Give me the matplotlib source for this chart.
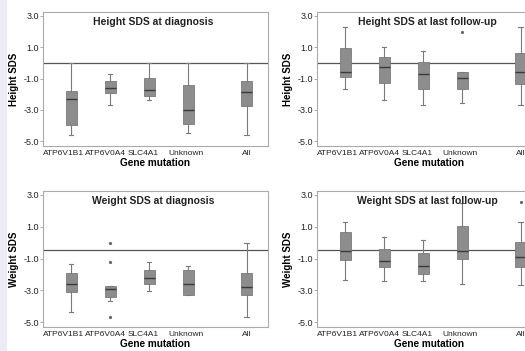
import matplotlib
matplotlib.use("Agg")
import matplotlib.pyplot as plt
from matplotlib.patches import Rectangle

plt.rcParams['font.family'] = ['Liberation Sans', 'DejaVu Sans']

groups = ['ATP6V1B1', 'ATP6V0A4', 'SLC4A1', 'Unknown', 'All']
positions = [1, 2, 3, 4, 5.5]
label_pos = [0.8, 1.88, 2.86, 3.95, 5.5]

# each panel: whisker low, q1, median, q3, whisker high, outliers per group
height_dx_lo = [-4.57, -2.68, -2.38, -4.44, -4.61]
height_dx_q1 = [-3.97, -1.90, -2.10, -3.92, -2.72]
height_dx_med = [-2.27, -1.62, -1.75, -3.00, -1.84]
height_dx_q3 = [-1.80, -1.13, -0.96, -1.41, -1.17]
height_dx_hi = [0.0, -0.70, 0.0, 0.0, 0.0]
height_dx_out = [[], [], [], [], []]

height_fu_lo = [-1.67, -2.35, -2.66, -2.57, -2.66]
height_fu_q1 = [-0.89, -1.28, -1.67, -1.67, -1.32]
height_fu_med = [-0.57, -0.25, -0.68, -0.98, -0.61]
height_fu_q3 = [0.98, 0.40, 0.03, -0.57, 0.63]
height_fu_hi = [2.29, 1.00, 0.78, -0.57, 2.29]
height_fu_out = [[], [], [], [1.97], []]

weight_dx_lo = [-4.33, -3.69, -3.06, -3.30, -4.68]
weight_dx_q1 = [-3.08, -3.41, -2.62, -3.30, -3.30]
weight_dx_med = [-2.60, -2.89, -2.19, -2.60, -2.80]
weight_dx_q3 = [-1.93, -2.71, -1.71, -1.69, -1.93]
weight_dx_hi = [-1.36, -2.71, -1.20, -1.45, -0.03]
weight_dx_out = [[], [-0.03, -1.20, -4.70], [], [], []]

weight_fu_lo = [-2.35, -2.42, -2.42, -2.59, -2.64]
weight_fu_q1 = [-1.09, -1.55, -1.94, -1.00, -1.50]
weight_fu_med = [-0.50, -1.13, -1.44, -0.54, -0.91]
weight_fu_q3 = [0.68, -0.41, -0.65, 1.07, 0.05]
weight_fu_hi = [1.31, 0.38, 0.16, 2.49, 1.31]
weight_fu_out = [[], [], [], [], [2.56]]

height_ref = 0.0
weight_ref = -0.43

panels = [
    ('Height SDS at diagnosis', 'Height SDS', height_ref,
     height_dx_lo, height_dx_q1, height_dx_med, height_dx_q3, height_dx_hi, height_dx_out),
    ('Height SDS at last follow-up', 'Height SDS', height_ref,
     height_fu_lo, height_fu_q1, height_fu_med, height_fu_q3, height_fu_hi, height_fu_out),
    ('Weight SDS at diagnosis', 'Weight SDS', weight_ref,
     weight_dx_lo, weight_dx_q1, weight_dx_med, weight_dx_q3, weight_dx_hi, weight_dx_out),
    ('Weight SDS at last follow-up', 'Weight SDS', weight_ref,
     weight_fu_lo, weight_fu_q1, weight_fu_med, weight_fu_q3, weight_fu_hi, weight_fu_out),
]

W, H = 525, 351
# axes boxes in pixels: left, top, right, bottom
boxes_px = [(43, 12, 268, 146), (317, 12, 542, 146),
            (43, 191, 268, 327), (317, 191, 542, 327)]

fig = plt.figure(figsize=(W / 100, H / 100), dpi=100)
fig.add_artist(Rectangle((0, 0), 6 / W, 1, transform=fig.transFigure,
                         color='#eceaf6', zorder=0))

for (title, ylab, ref, lo, q1, med, q3, hi, out), (l, t, r, b) in zip(panels, boxes_px):
    ax = fig.add_axes([l / W, (H - b) / H, (r - l) / W, (b - t) / H])
    stats = []
    for i in range(len(groups)):
        stats.append({'whislo': lo[i], 'q1': q1[i], 'med': med[i], 'q3': q3[i],
                      'whishi': hi[i], 'fliers': out[i], 'label': groups[i]})
    ax.axhline(ref, color='#555555', lw=0.9, zorder=1)
    ax.bxp(stats, positions=positions, widths=0.28, capwidths=0.12,
           patch_artist=True, showfliers=True,
           boxprops=dict(facecolor='#8d8d8d', edgecolor='#7a7a7a', lw=0.6),
           medianprops=dict(color='#3a3a3a', lw=1.0),
           whiskerprops=dict(color='#7a7a7a', lw=0.8),
           capprops=dict(color='#7a7a7a', lw=0.8),
           flierprops=dict(marker='o', markersize=1.3, markerfacecolor='#666666',
                           markeredgecolor='#666666'))
    ax.set_xticks(label_pos)
    ax.set_xticklabels(groups)
    ax.set_xlim(0.28, 6.05)
    ax.set_ylim(-5.3, 3.25)
    ax.set_yticks([3, 1, -1, -3, -5])
    ax.set_yticklabels(['3.0', '1.0', '-1.0', '-3.0', '-5.0'])
    ax.tick_params(axis='y', labelsize=6.5, length=2, width=0.5, color='#888888',
                   pad=1, labelcolor='#222222')
    ax.tick_params(axis='x', labelsize=6, length=0, pad=3, labelcolor='#222222')
    for s in ax.spines.values():
        s.set_color('#aaaaaa')
        s.set_linewidth(0.8)
    ax.set_ylabel(ylab, fontsize=7, fontweight='bold', labelpad=3)
    ax.set_xlabel('Gene mutation', fontsize=7.2, fontweight='bold', labelpad=0.5)
    ax.text(0.49, 0.965, title, transform=ax.transAxes, ha='center', va='top',
            fontsize=7.5, fontweight='bold', color='#222222')

fig.savefig('out.png', dpi=100)
